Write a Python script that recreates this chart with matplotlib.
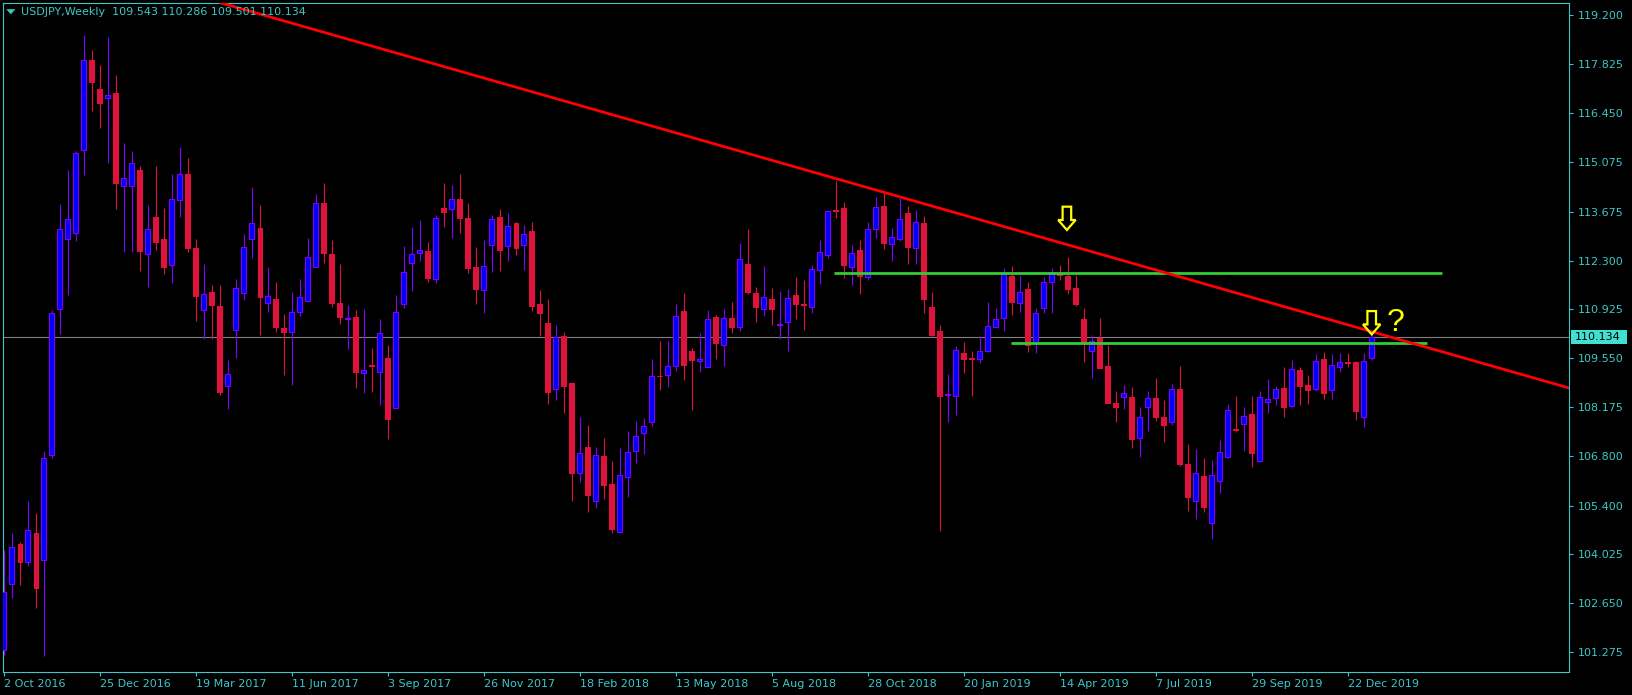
import matplotlib
matplotlib.use("Agg")
import matplotlib.pyplot as plt
import matplotlib.transforms as mtransforms
from matplotlib.patches import Polygon, Rectangle

# ---------------- data (weekly USDJPY, bar index 0 = week of 2 Oct 2016) ----------------
opens = [101.34, 103.20, 104.32, 103.82, 104.62, 103.88, 106.81, 110.94, 112.92, 113.07,
         115.42, 117.95, 117.13, 116.88, 117.02, 114.41, 114.39, 114.85, 112.47, 113.53,
         112.91, 112.16, 114.00, 114.75, 112.65, 110.92, 111.42, 111.01, 108.77, 110.33,
         111.38, 112.92, 113.21, 111.09, 111.23, 110.39, 110.30, 110.86, 111.17, 112.13,
         113.91, 112.47, 111.09, 110.65, 110.70, 109.12, 109.36, 109.17, 109.55, 108.14,
         111.07, 112.22, 112.50, 112.57, 111.77, 113.77, 113.74, 114.02, 113.49, 112.11,
         111.46, 112.73, 113.52, 112.70, 113.35, 112.73, 113.13, 111.08, 110.53, 108.67,
         110.17, 108.84, 106.31, 107.04, 105.53, 106.79, 106.01, 104.65, 106.19, 106.93,
         107.45, 107.76, 109.06, 109.09, 109.32, 110.87, 109.74, 109.46, 109.29, 110.70,
         109.91, 110.67, 110.42, 112.19, 111.38, 110.93, 111.21, 110.49, 110.58, 111.32,
         111.07, 111.00, 112.02, 112.45, 113.73, 113.77, 112.13, 112.60, 111.84, 113.18,
         113.84, 112.76, 112.92, 113.63, 112.64, 113.35, 110.98, 110.31, 108.52, 108.49,
         109.69, 109.55, 109.52, 109.76, 110.44, 110.67, 111.86, 111.11, 111.49, 109.97,
         110.95, 111.69, 111.91, 111.86, 111.54, 110.64, 109.76, 110.11, 109.32, 108.28,
         108.45, 108.47, 107.29, 108.17, 108.42, 107.89, 107.74, 108.67, 106.56, 105.54,
         106.23, 104.92, 106.10, 106.78, 107.56, 107.69, 107.97, 106.66, 108.32, 108.42,
         108.70, 108.20, 109.22, 108.80, 108.67, 109.52, 108.64, 109.30, 109.43, 109.43,
         107.89, 109.543]
highs = [104.15, 104.62, 104.37, 105.53, 105.20, 106.94, 110.91, 113.90, 114.84, 115.39,
         118.66, 118.23, 117.80, 118.60, 117.52, 115.61, 115.39, 114.96, 113.86, 114.96,
         113.77, 114.75, 115.51, 115.20, 112.92, 112.21, 111.60, 111.60, 109.50, 111.78,
         113.05, 114.38, 113.86, 112.13, 111.70, 110.79, 111.42, 111.78, 112.94, 114.17,
         114.49, 112.88, 112.20, 111.05, 110.91, 110.93, 109.84, 110.65, 109.92, 111.33,
         112.71, 113.23, 113.44, 112.82, 113.58, 114.47, 114.43, 114.74, 113.91, 112.69,
         112.88, 113.58, 113.75, 113.64, 113.39, 113.30, 113.38, 111.47, 111.22, 110.48,
         110.30, 108.89, 107.90, 107.67, 107.04, 107.29, 106.65, 107.03, 107.50, 107.78,
         107.87, 109.53, 110.03, 110.03, 111.08, 111.38, 109.84, 110.25, 110.91, 110.77,
         110.93, 111.12, 112.78, 113.19, 111.55, 112.14, 111.52, 111.44, 111.50, 111.84,
         111.75, 112.17, 112.88, 113.72, 114.55, 113.96, 112.74, 112.88, 113.39, 114.10,
         114.19, 113.21, 114.05, 113.84, 113.72, 113.54, 111.40, 110.48, 109.10, 109.89,
         110.00, 109.75, 110.17, 111.12, 110.95, 112.08, 112.14, 111.89, 111.69, 110.95,
         111.84, 112.08, 112.17, 112.39, 111.89, 110.95, 110.20, 110.67, 109.92, 108.63,
         108.79, 108.73, 108.17, 108.62, 108.98, 108.37, 108.82, 109.33, 107.12, 106.99,
         106.74, 106.68, 107.25, 108.27, 108.49, 108.17, 108.49, 108.62, 108.95, 108.77,
         109.30, 109.50, 109.30, 109.08, 109.66, 109.71, 109.68, 109.70, 109.70, 109.48,
         109.70, 110.286]
lows = [101.20, 102.81, 103.15, 103.70, 102.52, 101.17, 106.73, 110.23, 111.33, 112.86,
        114.71, 116.52, 116.03, 115.06, 113.74, 112.55, 112.53, 112.00, 111.55, 112.61,
        111.92, 111.66, 113.53, 112.55, 110.60, 110.09, 110.09, 108.52, 108.13, 109.56,
        111.19, 112.38, 110.20, 110.86, 110.30, 109.08, 108.79, 110.75, 111.17, 112.13,
        112.24, 111.00, 110.51, 109.82, 108.72, 108.58, 108.61, 108.23, 107.27, 108.14,
        110.97, 111.45, 112.30, 111.69, 111.66, 113.23, 112.94, 113.08, 111.94, 111.07,
        110.83, 111.99, 112.01, 112.30, 112.46, 112.03, 110.89, 110.18, 108.26, 108.37,
        108.01, 105.54, 106.07, 105.23, 105.34, 105.59, 104.62, 104.62, 105.65, 106.61,
        106.86, 107.64, 108.64, 108.75, 109.19, 108.94, 108.09, 109.17, 109.29, 109.53,
        109.34, 110.27, 110.32, 111.36, 110.58, 110.75, 110.48, 110.10, 109.76, 110.65,
        110.34, 110.83, 111.64, 112.38, 113.51, 111.82, 111.61, 111.36, 111.75, 112.94,
        112.62, 112.30, 112.86, 112.21, 112.20, 110.81, 110.14, 104.69, 107.76, 107.95,
        109.14, 108.49, 109.42, 109.73, 110.44, 110.31, 110.77, 110.86, 109.73, 109.70,
        110.81, 110.83, 111.75, 111.36, 111.03, 109.45, 109.00, 109.24, 108.28, 107.76,
        108.12, 107.03, 106.78, 107.51, 107.79, 107.19, 107.67, 106.50, 105.25, 105.03,
        105.22, 104.45, 105.74, 106.74, 107.47, 106.94, 106.48, 106.63, 108.02, 108.24,
        107.89, 108.17, 108.24, 108.27, 108.62, 108.41, 108.40, 109.16, 109.31, 107.82,
        107.62, 109.501]
closes = [102.97, 104.22, 103.82, 104.71, 103.09, 106.73, 110.82, 113.20, 113.48, 115.33,
          117.96, 117.34, 116.73, 116.95, 114.47, 114.62, 115.06, 112.58, 113.20, 112.83,
          112.13, 114.02, 114.75, 112.65, 111.30, 111.37, 111.05, 108.59, 109.11, 111.53,
          112.69, 113.35, 111.26, 111.31, 110.42, 110.30, 110.86, 111.26, 112.39, 113.91,
          112.52, 111.11, 110.70, 110.67, 109.17, 109.22, 109.34, 110.25, 107.83, 110.84,
          111.99, 112.47, 112.61, 111.82, 113.51, 113.66, 114.02, 113.51, 112.08, 111.49,
          112.15, 113.46, 112.59, 113.26, 112.66, 113.04, 111.01, 110.81, 108.61, 110.14,
          108.78, 106.31, 106.87, 105.71, 106.81, 105.97, 104.73, 106.25, 106.92, 107.35,
          107.63, 109.04, 109.04, 109.34, 110.73, 109.37, 109.51, 109.52, 110.64, 109.97,
          110.67, 110.44, 112.33, 111.42, 111.00, 111.26, 110.93, 110.50, 111.24, 111.08,
          111.05, 112.05, 112.53, 113.69, 113.70, 112.17, 112.50, 111.87, 113.18, 113.80,
          112.80, 112.95, 113.46, 112.69, 113.38, 111.21, 110.20, 108.49, 108.53, 109.77,
          109.54, 109.53, 109.74, 110.45, 110.64, 111.94, 111.14, 111.42, 109.92, 110.81,
          111.69, 111.99, 111.89, 111.51, 111.08, 109.99, 110.04, 109.28, 108.28, 108.18,
          108.56, 107.28, 107.90, 108.42, 107.88, 107.67, 108.67, 106.58, 105.63, 106.33,
          105.37, 106.26, 106.91, 108.08, 107.54, 107.92, 106.89, 108.45, 108.39, 108.67,
          108.17, 109.24, 108.76, 108.64, 109.46, 108.57, 109.35, 109.43, 109.41, 108.07,
          109.46, 110.134]

date_tick_bars = [0, 12, 24, 36, 48, 60, 72, 84, 96, 108, 120, 132, 144, 156, 168]
date_tick_labels = ["2 Oct 2016", "25 Dec 2016", "19 Mar 2017", "11 Jun 2017", "3 Sep 2017",
                    "26 Nov 2017", "18 Feb 2018", "13 May 2018", "5 Aug 2018", "28 Oct 2018",
                    "20 Jan 2019", "14 Apr 2019", "7 Jul 2019", "29 Sep 2019", "22 Dec 2019"]
price_ticks = [119.200, 117.825, 116.450, 115.075, 113.675, 112.300, 110.925,
               109.550, 108.175, 106.800, 105.400, 104.025, 102.650, 101.275]
price_tick_labels = ["119.200", "117.825", "116.450", "115.075", "113.675", "112.300", "110.925",
                     "109.550", "108.175", "106.800", "105.400", "104.025", "102.650", "101.275"]

symbol_title = "USDJPY,Weekly  109.543 110.286 109.501 110.134"
last_price = 110.134

# drawn objects (bar index, price)
trend_p1 = (28.0, 119.50)
trend_p2 = (195.66, 108.71)
green_upper = (111.94, 103.8, 179.85)
green_lower = (109.97, 125.9, 177.9)
arrow_tips = [(132.9, 113.16), (171.0, 110.22)]
question_pos = (174.0, 110.315)

# ---------------- styling ----------------
W, H = 1633, 695
BG = "black"
FG = "#3CC8C8"
BULL_FILL = "#0000FF"
BULL_EDGE = "#8000FF"
BEAR_FILL = "#DC143C"
BEAR_EDGE = "#DC143C"

plt.rcParams['font.family'] = ['DejaVu Sans']

fig = plt.figure(figsize=(W / 100, H / 100), dpi=100, facecolor=BG)


def fx(x):
    return x / W


def fy(y):
    return (H - y) / H


ax = fig.add_axes([fx(3), fy(671.5), (1569 - 3) / W, (671.5 - 3) / H])
ax.set_facecolor(BG)

n = len(opens)
xs = list(range(n))
is_bull = [c >= o for o, c in zip(opens, closes)]
wick_cols = [BULL_EDGE if b else BEAR_EDGE for b in is_bull]
fill_cols = [BULL_FILL if b else BEAR_FILL for b in is_bull]

ax.vlines(xs, lows, highs, colors=wick_cols, linewidth=0.8, zorder=2)
bottoms = [min(o, c) for o, c in zip(opens, closes)]
heights = [abs(c - o) for o, c in zip(opens, closes)]
ax.bar(xs, heights, bottom=bottoms, width=0.55, color=fill_cols,
       edgecolor=wick_cols, linewidth=0.8, zorder=3)

# bid line
ax.axhline(last_price, color="#808080", linewidth=0.8, zorder=1)

# horizontal green levels
for lvl, x0, x1 in (green_upper, green_lower):
    ax.hlines(lvl, x0, x1, color="#32CD32", linewidth=2.0, zorder=5)

# trend line
ax.axline(trend_p1, trend_p2, color="#FF0000", linewidth=2.0, zorder=6)

# axes limits
ax.set_xlim((3 - 3.7) / 8, (1569 - 3.7) / 8)
ax.set_ylim(119.2 - (671.5 - 15.5) / 35.51, 119.2 + (15.5 - 3) / 35.51)

# arrows (hollow, in pixel units around the tip)
arrow_shape = [(0, 0), (-8.7, 10), (-4.3, 10), (-4.3, 23.3), (4.3, 23.3), (4.3, 10), (8.7, 10)]
for (bx, py) in arrow_tips:
    tr = mtransforms.Affine2D() + mtransforms.ScaledTranslation(bx, py, ax.transData)
    ax.add_patch(Polygon(arrow_shape, closed=True, facecolor="none", edgecolor="#FFFF00",
                         linewidth=1.6, transform=tr, zorder=7, clip_on=False))

ax.text(question_pos[0], question_pos[1], "?", color="#FFFF00", fontsize=23,
        family="Liberation Sans", ha="center", va="baseline", zorder=7)

# spines and ticks
for s in ax.spines.values():
    s.set_color(FG)
    s.set_linewidth(0.8)

ax.yaxis.tick_right()
ax.set_yticks(price_ticks)
ax.set_yticklabels(price_tick_labels)
ax.tick_params(axis="y", colors=FG, length=3, width=0.8, pad=3, labelsize=8)

ax.set_xticks(date_tick_bars)
ax.set_xticklabels(date_tick_labels)
ax.tick_params(axis="x", colors=FG, length=3, width=0.8, pad=2.5, labelsize=8)
for lab in ax.get_xticklabels():
    lab.set_ha("left")

# title text with small triangle
ax.text(fx(21) / ((1569 - 3) / W) - fx(3) / ((1569 - 3) / W), 0, "", transform=ax.transAxes)
fig.text(fx(21), fy(15.4), symbol_title, color=FG, fontsize=8, ha="left", va="baseline",
         zorder=1)
fig.add_artist(Polygon([(fx(6.7), fy(9.3)), (fx(15), fy(9.3)), (fx(10.85), fy(14))],
                       closed=True, facecolor=FG, edgecolor=FG, linewidth=0.3,
                       transform=fig.transFigure))

# last-price label box
fig.add_artist(Rectangle((fx(1570.7), fy(344.3)), (1627 - 1570.7) / W, 14 / H,
                         transform=fig.transFigure, facecolor="#40E0D0", edgecolor="none"))
fig.text(fx(1575), fy(337.3), "%.3f" % last_price, color="black", fontsize=8,
         ha="left", va="center")

fig.savefig("out.png", dpi=100, facecolor=BG)
